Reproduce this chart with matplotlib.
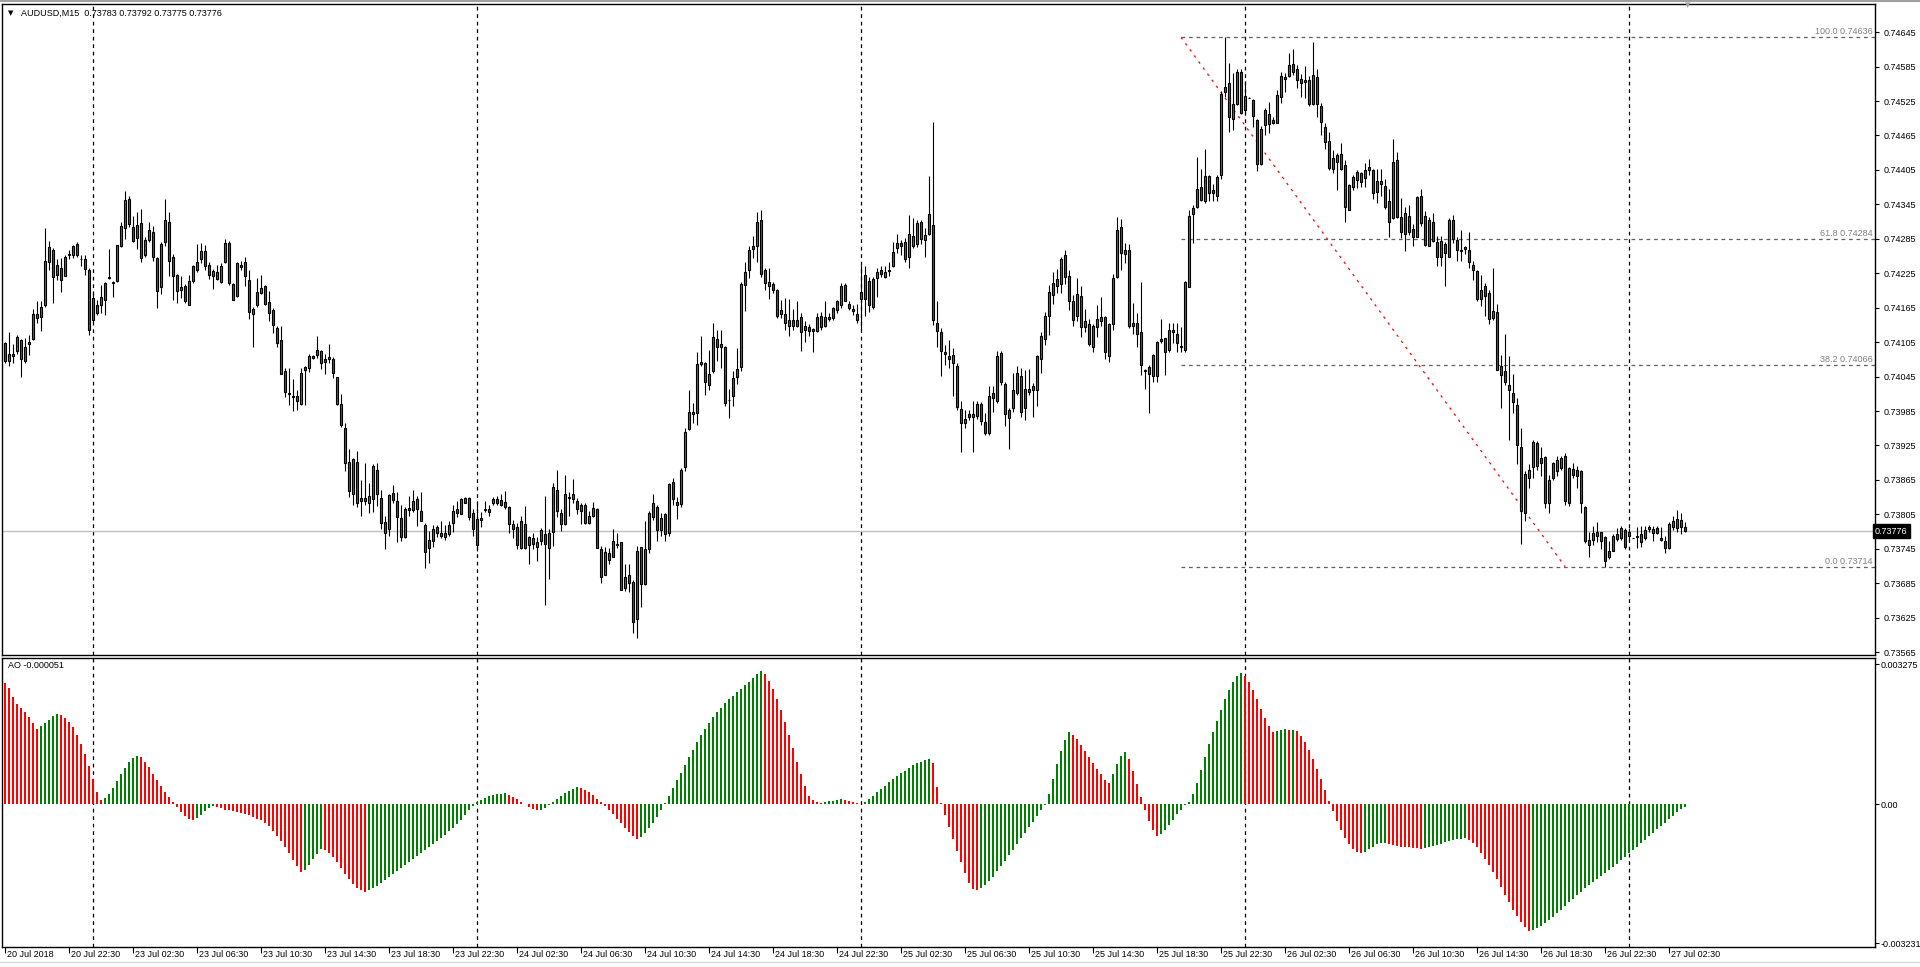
import numpy as np
import matplotlib
matplotlib.use('Agg')
import matplotlib.pyplot as plt
import matplotlib.transforms as mtrans
from matplotlib.lines import Line2D

plt.rcParams['font.family'] = ['Liberation Sans', 'DejaVu Sans']

opens = [0.74104,0.74073,0.74080,0.74089,0.74108,0.74073,0.74101,0.74111,0.74147,0.74149,0.74170,0.74245,0.74266,0.74222,0.74234,0.74221,0.74257,0.74257,0.74276,0.74250,
0.74250,0.74231,0.74143,0.74155,0.74170,0.74178,0.74217,0.74208,0.74211,0.74273,0.74304,0.74355,0.74305,0.74286,0.74312,0.74257,0.74283,0.74297,0.74252,0.74201,
0.74279,0.74315,0.74253,0.74222,0.74196,0.74203,0.74170,0.74211,0.74231,0.74249,0.74264,0.74239,0.74220,0.74228,0.74210,0.74244,0.74278,0.74207,0.74185,0.74236,
0.74245,0.74214,0.74154,0.74169,0.74191,0.74202,0.74175,0.74161,0.74129,0.74108,0.74055,0.74015,0.74010,0.74011,0.73997,0.74056,0.74060,0.74077,0.74082,0.74089,
0.74076,0.74075,0.74076,0.74044,0.73997,0.73956,0.73897,0.73841,0.73897,0.73828,0.73833,0.73825,0.73831,0.73883,0.73834,0.73792,0.73779,0.73843,0.73829,0.73799,
0.73766,0.73813,0.73812,0.73832,0.73810,0.73787,0.73746,0.73758,0.73783,0.73767,0.73773,0.73771,0.73790,0.73814,0.73806,0.73825,0.73834,0.73808,0.73752,0.73795,
0.73812,0.73814,0.73825,0.73831,0.73830,0.73827,0.73818,0.73788,0.73783,0.73747,0.73789,0.73751,0.73764,0.73748,0.73758,0.73771,0.73747,0.73774,0.73848,0.73807,
0.73788,0.73834,0.73840,0.73828,0.73822,0.73821,0.73790,0.73802,0.73815,0.73744,0.73700,0.73738,0.73731,0.73754,0.73756,0.73677,0.73700,0.73688,0.73623,0.73748,
0.73683,0.73744,0.73801,0.73818,0.73778,0.73806,0.73773,0.73861,0.73827,0.73823,0.73887,0.73953,0.73979,0.73981,0.74067,0.74069,0.74030,0.74054,0.74111,0.74097,
0.74096,0.74005,0.74012,0.74044,0.74061,0.74204,0.74230,0.74268,0.74272,0.74318,0.74231,0.74202,0.74206,0.74196,0.74154,0.74154,0.74133,0.74143,0.74133,0.74148,
0.74126,0.74131,0.74128,0.74124,0.74150,0.74133,0.74145,0.74147,0.74161,0.74169,0.74205,0.74172,0.74163,0.74154,0.74181,0.74180,0.74212,0.74166,0.74216,0.74231,
0.74218,0.74229,0.74237,0.74269,0.74277,0.74250,0.74254,0.74272,0.74276,0.74314,0.74283,0.74293,0.74309,0.74138,0.74123,0.74088,0.74081,0.74068,0.74064,0.73988,
0.73965,0.73974,0.73974,0.73977,0.73998,0.73966,0.73947,0.74007,0.74002,0.74086,0.74032,0.73972,0.73990,0.74016,0.74046,0.73990,0.74019,0.74022,0.74022,0.74075,
0.74110,0.74150,0.74187,0.74203,0.74207,0.74257,0.74220,0.74177,0.74150,0.74185,0.74131,0.74137,0.74097,0.74131,0.74141,0.74149,0.74080,0.74136,0.74219,0.74306,
0.74258,0.74265,0.74133,0.74139,0.74122,0.74056,0.74062,0.74046,0.74046,0.74107,0.74113,0.74091,0.74126,0.74120,0.74096,0.74091,0.74201,0.74329,0.74340,0.74375,
0.74350,0.74394,0.74370,0.74359,0.74396,0.74541,0.74556,0.74494,0.74519,0.74575,0.74510,0.74531,0.74526,0.74492,0.74416,0.74484,0.74503,0.74492,0.74487,0.74532,
0.74563,0.74568,0.74589,0.74580,0.74564,0.74559,0.74561,0.74519,0.74566,0.74517,0.74480,0.74456,0.74406,0.74419,0.74432,0.74413,0.74336,0.74376,0.74388,0.74399,
0.74391,0.74404,0.74405,0.74366,0.74385,0.74377,0.74350,0.74321,0.74423,0.74323,0.74294,0.74325,0.74302,0.74289,0.74359,0.74325,0.74273,0.74314,0.74279,0.74254,
0.74276,0.74254,0.74317,0.74283,0.74266,0.74268,0.74266,0.74240,0.74229,0.74180,0.74202,0.74190,0.74147,0.74157,0.74064,0.74055,0.74031,0.74016,0.73996,0.73922,
0.73807,0.73868,0.73887,0.73929,0.73903,0.73905,0.73825,0.73868,0.73880,0.73886,0.73907,0.73886,0.73884,0.73882,0.73881,0.73818,0.73752,0.73761,0.73775,0.73774,
0.73765,0.73730,0.73742,0.73762,0.73764,0.73778,0.73774,0.73763,0.73766,0.73770,0.73763,0.73779,0.73772,0.73781,0.73764,0.73758,0.73746,0.73783,0.73797,0.73795,
0.73783]
highs = [0.74105,0.74122,0.74101,0.74118,0.74111,0.74112,0.74118,0.74163,0.74176,0.74176,0.74304,0.74282,0.74269,0.74250,0.74251,0.74256,0.74266,0.74275,0.74279,0.74256,
0.74256,0.74234,0.74194,0.74179,0.74205,0.74209,0.74268,0.74211,0.74275,0.74314,0.74369,0.74360,0.74324,0.74331,0.74337,0.74289,0.74314,0.74307,0.74254,0.74280,
0.74354,0.74331,0.74259,0.74224,0.74221,0.74206,0.74222,0.74240,0.74276,0.74278,0.74275,0.74245,0.74232,0.74240,0.74242,0.74285,0.74281,0.74208,0.74245,0.74246,
0.74254,0.74231,0.74167,0.74217,0.74222,0.74205,0.74194,0.74165,0.74133,0.74133,0.74060,0.74060,0.74041,0.74022,0.74060,0.74064,0.74085,0.74083,0.74116,0.74092,
0.74085,0.74101,0.74079,0.74045,0.74014,0.73964,0.73918,0.73904,0.73916,0.73864,0.73894,0.73859,0.73892,0.73894,0.73847,0.73802,0.73841,0.73857,0.73844,0.73822,
0.73818,0.73837,0.73848,0.73837,0.73844,0.73790,0.73776,0.73787,0.73787,0.73794,0.73786,0.73793,0.73822,0.73829,0.73834,0.73835,0.73835,0.73814,0.73828,0.73809,
0.73828,0.73821,0.73835,0.73837,0.73840,0.73846,0.73819,0.73796,0.73790,0.73802,0.73819,0.73768,0.73773,0.73766,0.73782,0.73837,0.73779,0.73860,0.73883,0.73814,
0.73874,0.73844,0.73866,0.73834,0.73825,0.73824,0.73811,0.73826,0.73816,0.73750,0.73749,0.73747,0.73779,0.73773,0.73757,0.73718,0.73718,0.73691,0.73750,0.73749,
0.73793,0.73811,0.73840,0.73821,0.73808,0.73808,0.73860,0.73869,0.73836,0.73886,0.73955,0.74021,0.73999,0.74087,0.74116,0.74071,0.74092,0.74139,0.74126,0.74126,
0.74099,0.74024,0.74054,0.74094,0.74209,0.74244,0.74272,0.74290,0.74332,0.74335,0.74234,0.74234,0.74209,0.74197,0.74179,0.74182,0.74180,0.74162,0.74176,0.74155,
0.74141,0.74137,0.74129,0.74155,0.74158,0.74176,0.74155,0.74167,0.74179,0.74208,0.74208,0.74177,0.74170,0.74172,0.74240,0.74238,0.74219,0.74219,0.74234,0.74237,
0.74237,0.74244,0.74279,0.74293,0.74283,0.74286,0.74327,0.74321,0.74318,0.74318,0.74303,0.74395,0.74488,0.74177,0.74129,0.74100,0.74108,0.74094,0.74068,0.74002,
0.73987,0.73987,0.74002,0.74002,0.74000,0.73981,0.74029,0.74028,0.74090,0.74090,0.74036,0.73990,0.74051,0.74063,0.74060,0.74057,0.74059,0.74033,0.74083,0.74123,
0.74158,0.74204,0.74228,0.74232,0.74254,0.74265,0.74231,0.74187,0.74216,0.74202,0.74162,0.74145,0.74136,0.74170,0.74184,0.74150,0.74139,0.74224,0.74323,0.74319,
0.74278,0.74276,0.74174,0.74155,0.74210,0.74059,0.74065,0.74084,0.74107,0.74145,0.74113,0.74139,0.74139,0.74138,0.74131,0.74212,0.74335,0.74344,0.74428,0.74406,
0.74441,0.74396,0.74380,0.74396,0.74543,0.74636,0.74592,0.74573,0.74580,0.74580,0.74560,0.74532,0.74528,0.74493,0.74481,0.74512,0.74524,0.74498,0.74544,0.74576,
0.74574,0.74608,0.74615,0.74588,0.74572,0.74586,0.74568,0.74627,0.74580,0.74521,0.74487,0.74471,0.74440,0.74435,0.74452,0.74423,0.74381,0.74396,0.74404,0.74402,
0.74417,0.74424,0.74406,0.74406,0.74406,0.74389,0.74372,0.74458,0.74436,0.74356,0.74340,0.74344,0.74311,0.74359,0.74372,0.74333,0.74323,0.74330,0.74290,0.74290,
0.74280,0.74321,0.74327,0.74288,0.74301,0.74272,0.74296,0.74246,0.74231,0.74222,0.74208,0.74196,0.74234,0.74172,0.74083,0.74120,0.74080,0.74050,0.74008,0.73955,
0.73880,0.73892,0.73934,0.73932,0.73922,0.73906,0.73874,0.73897,0.73907,0.73906,0.73912,0.73887,0.73895,0.73890,0.73883,0.73820,0.73775,0.73784,0.73791,0.73775,
0.73768,0.73758,0.73770,0.73781,0.73784,0.73781,0.73781,0.73763,0.73783,0.73784,0.73784,0.73787,0.73785,0.73784,0.73783,0.73767,0.73791,0.73802,0.73812,0.73807,
0.73792]
lows = [0.74069,0.74064,0.74069,0.74085,0.74044,0.74069,0.74083,0.74109,0.74138,0.74124,0.74167,0.74230,0.74174,0.74214,0.74192,0.74220,0.74250,0.74252,0.74253,0.74237,
0.74222,0.74117,0.74140,0.74153,0.74156,0.74153,0.74215,0.74184,0.74210,0.74271,0.74285,0.74305,0.74279,0.74267,0.74244,0.74254,0.74280,0.74246,0.74164,0.74189,
0.74272,0.74221,0.74179,0.74173,0.74182,0.74173,0.74169,0.74208,0.74228,0.74243,0.74231,0.74215,0.74198,0.74213,0.74208,0.74243,0.74205,0.74178,0.74184,0.74231,
0.74202,0.74145,0.74097,0.74166,0.74189,0.74170,0.74141,0.74121,0.74097,0.74049,0.74010,0.73996,0.73985,0.73986,0.73996,0.73996,0.74053,0.74076,0.74078,0.74059,
0.74050,0.74069,0.74043,0.73996,0.73957,0.73880,0.73836,0.73821,0.73818,0.73803,0.73822,0.73808,0.73809,0.73819,0.73780,0.73745,0.73767,0.73824,0.73757,0.73759,
0.73764,0.73802,0.73809,0.73785,0.73793,0.73712,0.73721,0.73749,0.73765,0.73763,0.73760,0.73767,0.73774,0.73801,0.73805,0.73824,0.73795,0.73767,0.73741,0.73783,
0.73809,0.73803,0.73822,0.73822,0.73819,0.73815,0.73772,0.73764,0.73744,0.73744,0.73744,0.73718,0.73745,0.73724,0.73751,0.73647,0.73692,0.73750,0.73800,0.73776,
0.73786,0.73802,0.73824,0.73805,0.73789,0.73789,0.73789,0.73801,0.73746,0.73686,0.73699,0.73718,0.73730,0.73747,0.73673,0.73672,0.73669,0.73599,0.73590,0.73644,
0.73682,0.73737,0.73796,0.73758,0.73768,0.73758,0.73767,0.73822,0.73797,0.73818,0.73880,0.73952,0.73964,0.73961,0.74063,0.74013,0.74022,0.74051,0.74073,0.74060,
0.73993,0.73972,0.73993,0.74032,0.74054,0.74160,0.74216,0.74251,0.74244,0.74219,0.74196,0.74180,0.74190,0.74147,0.74147,0.74126,0.74116,0.74126,0.74131,0.74090,
0.74106,0.74116,0.74087,0.74122,0.74126,0.74132,0.74142,0.74144,0.74155,0.74164,0.74176,0.74161,0.74153,0.74139,0.74127,0.74151,0.74157,0.74162,0.74184,0.74219,
0.74216,0.74220,0.74236,0.74260,0.74257,0.74245,0.74234,0.74269,0.74271,0.74276,0.74254,0.74292,0.74135,0.74097,0.74046,0.74065,0.74060,0.74011,0.73987,0.73914,
0.73955,0.73970,0.73913,0.73971,0.73961,0.73944,0.73944,0.73984,0.73999,0.74031,0.73959,0.73919,0.73984,0.74013,0.73974,0.73969,0.74013,0.73974,0.73993,0.74051,
0.74100,0.74117,0.74171,0.74190,0.74190,0.74207,0.74161,0.74133,0.74142,0.74114,0.74123,0.74098,0.74087,0.74114,0.74133,0.74075,0.74071,0.74127,0.74216,0.74231,
0.74242,0.74129,0.74119,0.74096,0.74048,0.74024,0.73982,0.74036,0.74036,0.74103,0.74048,0.74087,0.74103,0.74087,0.74087,0.74087,0.74201,0.74277,0.74338,0.74350,
0.74348,0.74350,0.74351,0.74350,0.74390,0.74532,0.74471,0.74474,0.74518,0.74503,0.74501,0.74530,0.74479,0.74403,0.74413,0.74466,0.74469,0.74485,0.74486,0.74522,
0.74541,0.74567,0.74570,0.74547,0.74532,0.74530,0.74516,0.74518,0.74498,0.74466,0.74442,0.74405,0.74399,0.74370,0.74404,0.74315,0.74335,0.74370,0.74373,0.74375,
0.74376,0.74397,0.74354,0.74348,0.74359,0.74337,0.74289,0.74319,0.74321,0.74286,0.74263,0.74292,0.74272,0.74288,0.74308,0.74272,0.74272,0.74280,0.74238,0.74238,
0.74203,0.74253,0.74278,0.74246,0.74247,0.74259,0.74234,0.74214,0.74176,0.74168,0.74151,0.74137,0.74144,0.74056,0.73990,0.74031,0.73935,0.73982,0.73893,0.73754,
0.73793,0.73851,0.73868,0.73882,0.73871,0.73816,0.73808,0.73865,0.73871,0.73882,0.73822,0.73819,0.73868,0.73851,0.73807,0.73755,0.73731,0.73752,0.73756,0.73745,
0.73714,0.73727,0.73741,0.73758,0.73761,0.73745,0.73760,0.73763,0.73746,0.73748,0.73761,0.73774,0.73758,0.73771,0.73758,0.73737,0.73745,0.73778,0.73775,0.73771,
0.73775]
closes = [0.74073,0.74085,0.74085,0.74114,0.74076,0.74097,0.74105,0.74154,0.74154,0.74166,0.74247,0.74271,0.74218,0.74239,0.74213,0.74253,0.74259,0.74272,0.74257,0.74250,
0.74232,0.74127,0.74182,0.74170,0.74183,0.74208,0.74219,0.74210,0.74274,0.74308,0.74353,0.74310,0.74282,0.74309,0.74252,0.74283,0.74300,0.74254,0.74194,0.74276,
0.74318,0.74246,0.74221,0.74194,0.74201,0.74176,0.74211,0.74238,0.74245,0.74263,0.74238,0.74222,0.74229,0.74215,0.74238,0.74278,0.74208,0.74178,0.74243,0.74240,
0.74220,0.74157,0.74163,0.74192,0.74200,0.74172,0.74156,0.74134,0.74104,0.74050,0.74019,0.74017,0.74012,0.74002,0.74051,0.74062,0.74080,0.74080,0.74091,0.74069,
0.74070,0.74079,0.74051,0.73997,0.73960,0.73895,0.73846,0.73901,0.73825,0.73834,0.73828,0.73837,0.73889,0.73840,0.73790,0.73772,0.73838,0.73830,0.73801,0.73766,
0.73814,0.73816,0.73829,0.73814,0.73794,0.73740,0.73760,0.73780,0.73773,0.73772,0.73766,0.73786,0.73810,0.73807,0.73831,0.73834,0.73800,0.73779,0.73797,0.73799,
0.73814,0.73809,0.73832,0.73824,0.73821,0.73817,0.73788,0.73780,0.73751,0.73794,0.73747,0.73766,0.73754,0.73756,0.73777,0.73753,0.73772,0.73853,0.73811,0.73788,
0.73840,0.73836,0.73831,0.73815,0.73811,0.73790,0.73802,0.73816,0.73747,0.73696,0.73740,0.73725,0.73759,0.73752,0.73673,0.73696,0.73685,0.73618,0.73741,0.73684,
0.73744,0.73808,0.73825,0.73778,0.73799,0.73770,0.73857,0.73832,0.73821,0.73882,0.73948,0.73983,0.73983,0.74067,0.74070,0.74035,0.74050,0.74114,0.74096,0.74102,
0.73999,0.74005,0.74042,0.74058,0.74206,0.74228,0.74266,0.74272,0.74315,0.74223,0.74208,0.74209,0.74196,0.74150,0.74161,0.74139,0.74143,0.74133,0.74144,0.74122,
0.74133,0.74124,0.74124,0.74148,0.74131,0.74148,0.74148,0.74164,0.74176,0.74202,0.74177,0.74165,0.74160,0.74143,0.74192,0.74222,0.74170,0.74215,0.74228,0.74224,
0.74228,0.74231,0.74262,0.74277,0.74272,0.74279,0.74293,0.74290,0.74312,0.74284,0.74292,0.74328,0.74143,0.74125,0.74089,0.74084,0.74076,0.74083,0.73992,0.73965,
0.73971,0.73980,0.73980,0.73998,0.73967,0.73946,0.74011,0.74017,0.74081,0.74035,0.73980,0.73987,0.74022,0.74051,0.73984,0.74023,0.74024,0.74029,0.74081,0.74116,
0.74150,0.74192,0.74208,0.74215,0.74250,0.74218,0.74177,0.74143,0.74189,0.74131,0.74142,0.74102,0.74133,0.74145,0.74148,0.74087,0.74136,0.74216,0.74300,0.74261,
0.74265,0.74133,0.74138,0.74120,0.74066,0.74055,0.74049,0.74082,0.74106,0.74110,0.74087,0.74126,0.74123,0.74104,0.74098,0.74209,0.74325,0.74338,0.74371,0.74352,
0.74394,0.74365,0.74364,0.74392,0.74538,0.74549,0.74498,0.74519,0.74575,0.74505,0.74534,0.74531,0.74499,0.74416,0.74476,0.74509,0.74485,0.74486,0.74535,0.74568,
0.74566,0.74588,0.74576,0.74561,0.74556,0.74561,0.74519,0.74571,0.74519,0.74489,0.74453,0.74409,0.74425,0.74431,0.74406,0.74340,0.74378,0.74392,0.74401,0.74384,
0.74404,0.74410,0.74365,0.74386,0.74381,0.74341,0.74315,0.74418,0.74323,0.74296,0.74330,0.74296,0.74288,0.74357,0.74312,0.74275,0.74317,0.74282,0.74254,0.74282,
0.74260,0.74318,0.74285,0.74265,0.74264,0.74270,0.74244,0.74230,0.74180,0.74196,0.74185,0.74146,0.74159,0.74057,0.74048,0.74035,0.74021,0.74000,0.73926,0.73810,
0.73876,0.73882,0.73931,0.73889,0.73894,0.73825,0.73864,0.73894,0.73900,0.73903,0.73828,0.73825,0.73874,0.73871,0.73825,0.73758,0.73761,0.73772,0.73767,0.73758,
0.73723,0.73741,0.73767,0.73771,0.73781,0.73748,0.73768,0.73763,0.73768,0.73756,0.73778,0.73783,0.73779,0.73772,0.73760,0.73746,0.73788,0.73793,0.73781,0.73783,
0.73776]

# Awesome Oscillator, one value per bar, in units of 0.0001
ao_e4 = [28.3,27.2,25.0,23.5,22.6,21.6,20.3,18.9,17.5,18.2,19.0,19.8,20.6,21.1,20.8,20.2,19.3,18.0,16.3,14.2,
11.8,9.0,6.0,3.0,1.0,1.4,2.4,3.8,5.4,7.0,8.5,9.9,10.9,11.4,11.0,10.0,8.7,7.2,5.7,4.2,
2.9,1.7,0.6,-0.6,-1.7,-2.7,-3.4,-3.7,-3.2,-2.4,-1.5,-0.8,-0.3,-0.6,-0.9,-1.2,-1.4,-1.6,-1.8,-2.0,
-2.2,-2.5,-2.9,-3.3,-3.7,-4.3,-5.1,-6.1,-7.3,-8.6,-10.0,-11.4,-12.9,-14.4,-15.7,-15.2,-14.1,-12.8,-11.5,-10.3,
-10.6,-11.3,-12.3,-13.5,-14.8,-16.1,-17.4,-18.5,-19.4,-20.0,-20.3,-20.0,-19.5,-18.9,-18.3,-17.6,-16.9,-16.2,-15.5,-14.8,
-14.1,-13.4,-12.7,-12.0,-11.3,-10.6,-9.9,-9.2,-8.5,-7.8,-7.0,-6.2,-5.4,-4.5,-3.5,-2.5,-1.4,-0.3,0.5,1.0,
1.5,1.9,2.2,2.4,2.5,2.6,2.3,1.8,1.2,0.6,0.0,-0.6,-1.1,-1.4,-1.2,-0.8,-0.2,0.5,1.2,1.9,
2.6,3.2,3.7,4.0,3.8,3.4,2.8,2.1,1.3,0.5,-0.3,-1.2,-2.2,-3.3,-4.4,-5.5,-6.5,-7.4,-8.0,-7.6,
-6.7,-5.5,-4.2,-2.8,-1.3,0.3,2.0,3.8,5.6,7.4,9.2,11.0,12.8,14.5,16.1,17.6,19.0,20.3,21.5,22.6,
23.6,24.5,25.4,26.2,27.0,27.8,28.6,29.5,30.4,31.1,30.5,28.9,26.9,24.6,22.0,19.2,16.2,13.1,10.0,7.0,
4.3,2.0,1.0,0.6,0.4,0.5,0.7,0.9,1.1,1.2,1.0,0.8,0.5,0.3,0.1,0.6,1.3,2.0,2.8,3.6,
4.4,5.2,5.9,6.6,7.3,7.9,8.5,9.1,9.6,10.0,10.3,10.6,9.6,4.0,0.3,-2.5,-5.2,-8.0,-10.8,-13.5,
-16.0,-18.2,-19.7,-20.0,-19.5,-18.8,-17.8,-16.8,-15.6,-14.4,-13.1,-11.8,-10.5,-9.2,-7.9,-6.6,-5.3,-4.0,-2.7,-1.4,
-0.2,2.5,6.0,9.5,12.5,15.0,16.9,16.3,15.2,13.8,12.4,11.0,9.6,8.2,7.0,5.8,4.9,7.0,9.5,11.2,
12.3,10.5,7.8,4.8,1.8,-1.2,-3.8,-5.9,-7.4,-6.9,-6.0,-4.8,-3.5,-2.3,-1.2,-0.2,0.6,2.5,5.0,8.0,
11.0,14.0,16.8,19.5,22.0,24.5,26.8,28.6,29.9,30.6,30.0,28.6,26.8,24.6,22.3,20.1,18.2,16.9,17.2,17.4,
17.5,17.3,17.4,17.1,16.0,14.5,12.7,10.6,8.3,5.9,3.4,0.9,-1.5,-3.8,-5.9,-7.7,-9.2,-10.3,-11.0,-11.4,
-11.0,-10.4,-9.8,-9.3,-9.0,-8.9,-9.2,-9.5,-9.7,-9.8,-9.9,-10.0,-10.1,-10.2,-10.3,-10.2,-10.0,-9.7,-9.4,-9.1,
-8.8,-8.5,-8.3,-8.1,-8.0,-7.9,-8.3,-9.0,-10.0,-11.2,-12.6,-14.1,-15.7,-17.4,-19.2,-21.0,-22.8,-24.5,-26.0,-27.4,
-28.6,-29.4,-29.3,-28.9,-28.4,-27.7,-27.0,-26.2,-25.4,-24.5,-23.7,-22.8,-22.0,-21.1,-20.3,-19.5,-18.8,-18.1,-17.4,-16.7,
-16.0,-15.3,-14.6,-13.8,-13.0,-12.2,-11.4,-10.6,-9.8,-9.0,-8.2,-7.4,-6.6,-5.8,-5.0,-4.2,-3.4,-2.6,-1.8,-1.1,
-0.51]

time_labels = ['20 Jul 2018', '20 Jul 22:30', '23 Jul 02:30', '23 Jul 06:30', '23 Jul 10:30', '23 Jul 14:30',
               '23 Jul 18:30', '23 Jul 22:30', '24 Jul 02:30', '24 Jul 06:30', '24 Jul 10:30', '24 Jul 14:30',
               '24 Jul 18:30', '24 Jul 22:30', '25 Jul 02:30', '25 Jul 06:30', '25 Jul 10:30', '25 Jul 14:30',
               '25 Jul 18:30', '25 Jul 22:30', '26 Jul 02:30', '26 Jul 06:30', '26 Jul 10:30', '26 Jul 14:30',
               '26 Jul 18:30', '26 Jul 22:30', '27 Jul 02:30']
day_starts = [22, 118, 214, 310, 406]
price_ticks = [0.74645, 0.74585, 0.74525, 0.74465, 0.74405, 0.74345, 0.74285, 0.74225, 0.74165, 0.74105,
               0.74045, 0.73985, 0.73925, 0.73865, 0.73805, 0.73745, 0.73685, 0.73625, 0.73565]
fib_names = ['100.0', '61.8', '38.2', '0.0']
fib_prices = [0.74636, 0.74284, 0.74066, 0.73714]
trend_bars = [294, 390]
trend_prices = [0.74636, 0.73714]
last_price = 0.73776
ao_last = -0.000051
ao_max, ao_min = 0.003275, -0.003231

W, H = 1920, 967
fig = plt.figure(figsize=(W / 100, H / 100), dpi=100)

def box(x0, y0, x1, y1):
    return [x0 / W, 1 - y1 / H, (x1 - x0) / W, (y1 - y0) / H]

ax = fig.add_axes(box(2, 4, 1875, 655))
ax2 = fig.add_axes(box(2, 658, 1875, 947))

n = len(closes)
x = np.arange(n)
o = np.array(opens)
c = np.array(closes)
up = c > o
dn = ~up

# candles
ax.vlines(x, lows, highs, color='black', lw=0.8, zorder=3)
ax.bar(x[up], (c - o)[up], bottom=o[up], width=0.5, color='#2E7D4F', edgecolor='black', lw=0.8, zorder=4)
ax.bar(x[dn], (o - c)[dn], bottom=c[dn], width=0.5, color='#DC143C', edgecolor='black', lw=0.8, zorder=4)

xmin, xmax = -0.75, 467.5
ax.set_xlim(xmin, xmax)
ax.set_ylim(0.73560, 0.74694)
ax2.set_xlim(xmin, xmax)
ax2.set_ylim(-0.003323, 0.003416)

# day separators
for a in (ax, ax2):
    for d in day_starts:
        a.axvline(d, color='black', lw=0.9, ls=(0, (3, 3)), zorder=1)
    for s in a.spines.values():
        s.set_linewidth(1.0)
        s.set_color('black')

# current price line
ax.axhline(last_price, color='#C0C0C0', lw=1, zorder=2)

# fibonacci levels and trend line
for name, p in zip(fib_names, fib_prices):
    ax.plot([trend_bars[0], xmax], [p, p], color='#606060', lw=0.9, ls=(0, (3, 3)), zorder=2)
    ax.annotate(name + ' ' + '%.5f' % p, (xmax, p), xytext=(-2, 1), textcoords='offset pixels',
                ha='right', va='bottom', fontsize=6.5, color='#808080')
ax.plot(trend_bars, trend_prices, color='red', lw=0.9, ls=(0, (2, 4)), zorder=2)

# price axis
ax.yaxis.tick_right()
ax.set_yticks(price_ticks)
ax.set_yticklabels(['%.5f' % p for p in price_ticks])
ax.tick_params(axis='y', direction='out', length=3, width=0.8, pad=3, labelsize=6.5)
ax.set_xticks([])
ax.text(1.0, last_price, '%.5f' % last_price, transform=mtrans.blended_transform_factory(ax.transAxes, ax.transData),
        ha='left', va='center', fontsize=6.5, color='white',
        bbox=dict(boxstyle='square,pad=0.25', fc='black', ec='black'), zorder=10, clip_on=False)

# headers
fig.text(8 / W, 1 - 13 / H, '\u25bc', fontsize=5, ha='left', va='center', family='DejaVu Sans')
fig.text(21 / W, 1 - 13 / H, 'AUDUSD,M15  0.73783 0.73792 0.73775 0.73776', fontsize=6.5, ha='left', va='center')
fig.text(8 / W, 1 - 666 / H, 'AO %.6f' % ao_last, fontsize=6.5, ha='left', va='center')

# AO histogram: green when rising, red when falling
ao = np.array(ao_e4) * 1e-4
ao_col = ['#FF0000'] + ['#008000' if ao[i] > ao[i - 1] else '#FF0000' for i in range(1, n)]
ax2.bar(x, ao, width=0.5, color=ao_col, lw=0, zorder=3)
ax2.yaxis.tick_right()
ax2.set_yticks([ao_max, 0.0, ao_min])
ax2.set_yticklabels(['%.6f' % ao_max, '0.00', '%.6f' % ao_min])
ax2.tick_params(axis='y', direction='out', length=3, width=0.8, pad=1, labelsize=6.5)

# time axis
label_bars = list(range(0, n, 16))
ax2.set_xticks(label_bars)
ax2.set_xticklabels([])
ax2.tick_params(axis='x', direction='out', length=4, width=0.8)
tr = ax2.get_xaxis_transform() + mtrans.ScaledTranslation(2 / 100, -3 / 100, fig.dpi_scale_trans)
for b, lab in zip(label_bars, time_labels):
    ax2.text(b, 0, lab, transform=tr, ha='left', va='top', fontsize=6.5, clip_on=False)

# shift marker and window frame
fig.text(1688 / W, 1 - 5 / H, '\u25bc', fontsize=5, color='#A0A0A0', ha='center', va='center', family='DejaVu Sans')
fig.add_artist(Line2D([0, 1], [1 - 1 / H, 1 - 1 / H], color='#A0A0A0', lw=1.5))
fig.add_artist(Line2D([0, 1], [1 - 962 / H, 1 - 962 / H], color='#D8D8D8', lw=1))

fig.savefig('out.png', dpi=100)
